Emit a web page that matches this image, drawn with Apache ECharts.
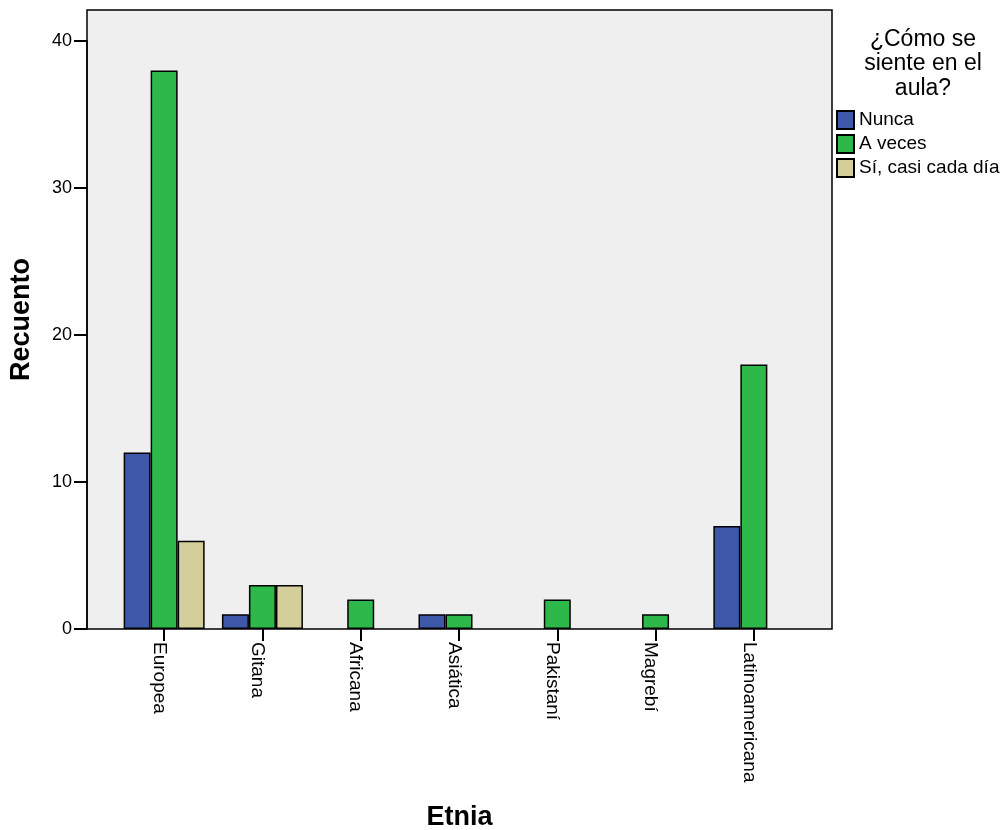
<!DOCTYPE html>
<html>
<head>
<meta charset="utf-8">
<script src="https://cdn.jsdelivr.net/npm/echarts@6/dist/echarts.min.js"></script>
<style>html,body{margin:0;padding:0;background:#fff;}#c{width:1006px;height:830px;}</style>
</head>
<body>
<div id="c"></div>
<script>
const categories = ['Europea', 'Gitana', 'Africana', 'Asiática', 'Pakistaní', 'Magrebí', 'Latinoamericana'];
const seriesNames = ['Nunca', 'A veces', 'Sí, casi cada día'];
const nunca = [12, 1, null, 1, null, null, 7];
const aVeces = [38, 3, 2, 1, 2, 1, 18];
const casiCadaDia = [6, 3, null, null, null, null, null];
const yTicks = [0, 10, 20, 30, 40];

const colors = ['#3e57a9', '#2fb84a', '#d4cf9a'];
const font = '"Liberation Sans", Arial, sans-serif';
const chart = echarts.init(document.getElementById('c'), null, {renderer: 'canvas'});

function bar(name, data, color) {
  return {
    name: name, type: 'bar', data: data, xAxisIndex: 1, yAxisIndex: 1,
    barWidth: 27, barGap: '0%',
    itemStyle: {color: color, borderColor: '#000', borderWidth: 1.5},
    emphasis: {disabled: true}
  };
}

chart.setOption({
  animation: false,
  textStyle: {fontFamily: font},
  title: {
    text: '¿Cómo se\nsiente en el\naula?',
    left: 918, top: 22, textAlign: 'center',
    textStyle: {fontFamily: font, fontSize: 23, fontWeight: 'normal', color: '#000', lineHeight: 24.5}
  },
  legend: {
    orient: 'vertical', left: 831, top: 105,
    itemWidth: 17, itemHeight: 18, itemGap: 4,
    icon: 'rect',
    textStyle: {fontFamily: font, fontSize: 19, color: '#000', lineHeight: 20},
    data: seriesNames
  },
  grid: [
    {left: 87, right: 174, top: 10, bottom: 201, outerBoundsMode: 'none', containLabel: false,
     show: true, backgroundColor: '#efefef', borderColor: '#000', borderWidth: 1.5, z: 0},
    {left: 115, right: 203, top: 41, bottom: 201, outerBoundsMode: 'none', containLabel: false}
  ],
  xAxis: [
    {gridIndex: 0, type: 'value', min: 0, max: 1, axisLine: {show: false}, axisTick: {show: false}, axisLabel: {show: false}, splitLine: {show: false},
     name: 'Etnia', nameLocation: 'middle', nameGap: 175,
     nameTextStyle: {fontFamily: font, fontSize: 27, fontWeight: 'bold', color: '#000'}},
    {gridIndex: 1, type: 'category', data: categories, boundaryGap: true,
     axisLine: {show: false},
     axisTick: {show: true, alignWithLabel: true, length: 12, lineStyle: {color: '#000', width: 2}},
     axisLabel: {rotate: -90, margin: 13, fontFamily: font, fontSize: 19, color: '#000', interval: 0,
                 verticalAlign: 'top', lineHeight: 10}}
  ],
  yAxis: [
    {gridIndex: 0, type: 'value', min: 0, max: 1, axisLine: {show: false}, axisTick: {show: false}, axisLabel: {show: false}, splitLine: {show: false},
     name: 'Recuento', nameLocation: 'middle', nameGap: 52,
     nameTextStyle: {fontFamily: font, fontSize: 27, fontWeight: 'bold', color: '#000'}},
    {gridIndex: 1, type: 'value', min: yTicks[0], max: yTicks[yTicks.length - 1], interval: 10, offset: 28,
     axisLine: {show: true, lineStyle: {color: '#000', width: 1.5}},
     axisTick: {show: true, length: 13, lineStyle: {color: '#000', width: 2}},
     axisLabel: {margin: 15, fontFamily: font, fontSize: 18, color: '#000'},
     splitLine: {show: false}}
  ],
  series: [
    bar(seriesNames[0], nunca, colors[0]),
    bar(seriesNames[1], aVeces, colors[1]),
    bar(seriesNames[2], casiCadaDia, colors[2])
  ]
});
</script>
</body>
</html>
